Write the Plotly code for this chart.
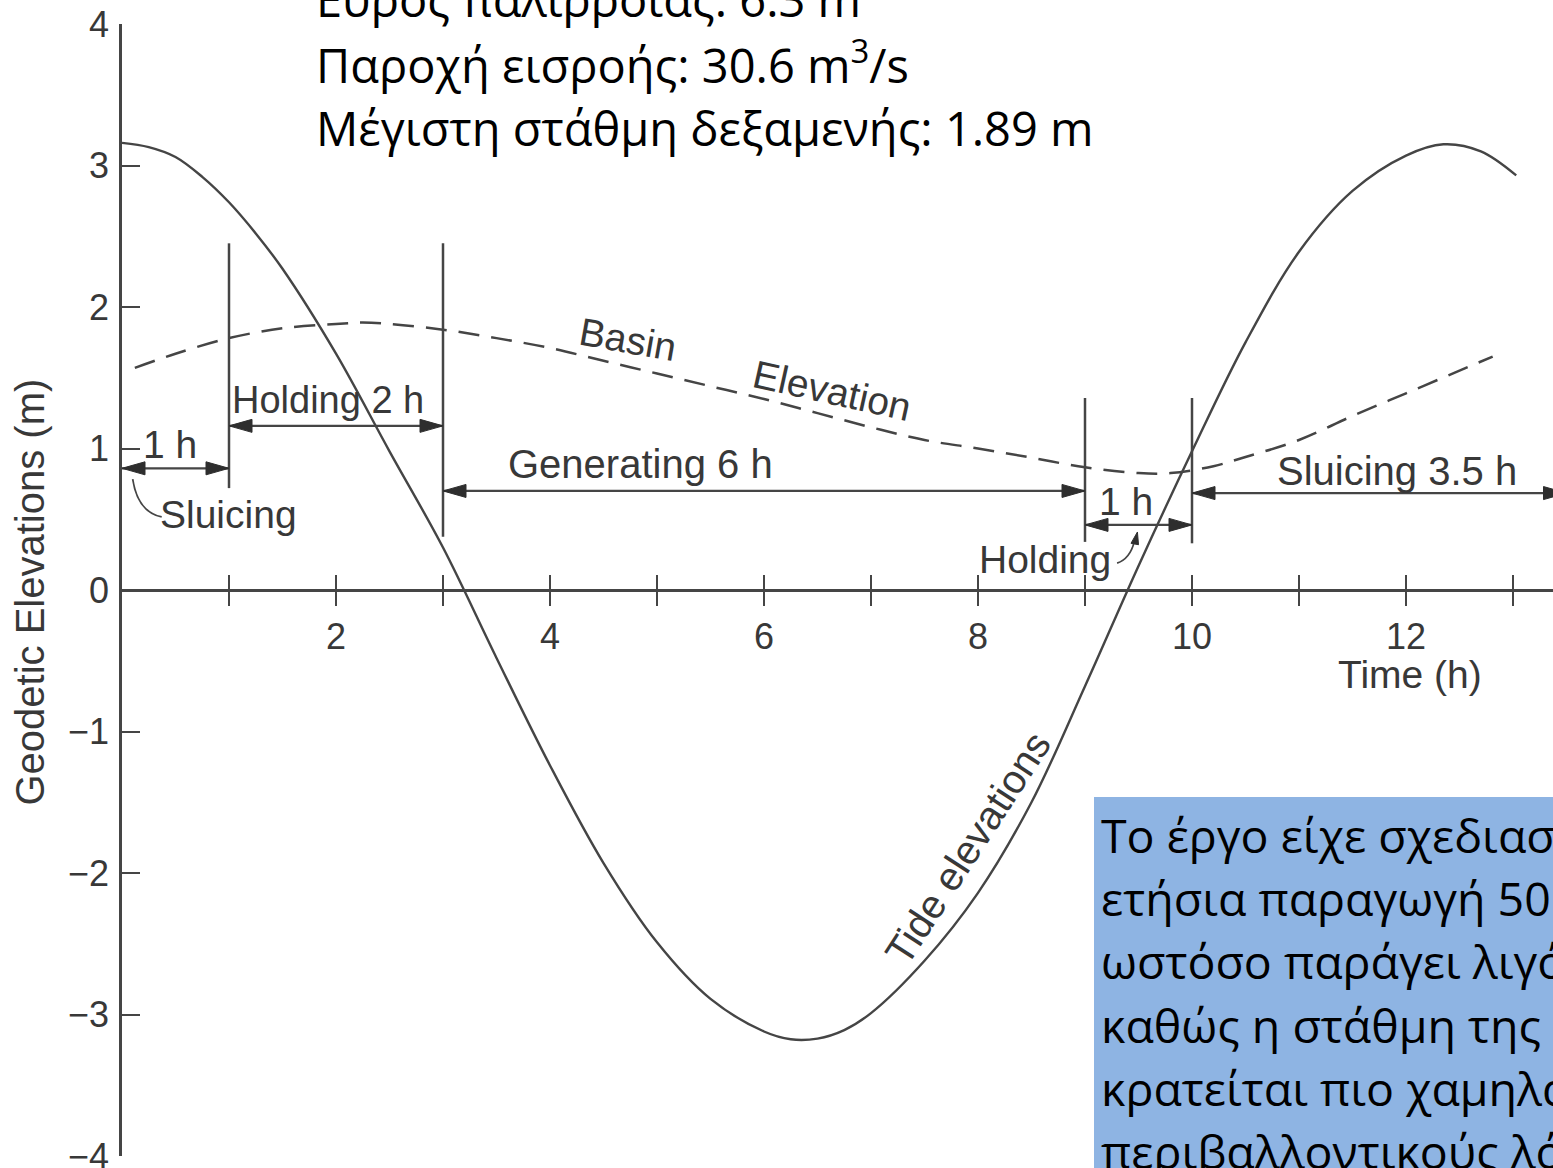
import plotly.graph_objects as go

# ---- data -------------------------------------------------------------
# Tide elevation over one cycle (time in h, elevation in m)
tide_t = [0.0, 0.25, 0.5, 0.75, 1.0, 1.25, 1.5, 2.0, 2.5, 3.0, 3.5, 4.0, 4.5, 5.0,
          5.5, 6.0, 6.25, 6.5, 6.75, 7.0, 7.5, 8.0, 8.5, 9.0, 9.5, 10.0, 10.5,
          11.0, 11.5, 12.0, 12.35, 12.7, 13.03]
tide_h = [3.16, 3.13, 3.06, 2.92, 2.74, 2.52, 2.27, 1.67, 0.98, 0.30, -0.48, -1.24,
          -1.93, -2.49, -2.89, -3.12, -3.175, -3.17, -3.11, -2.99, -2.62, -2.14,
          -1.50, -0.68, 0.17, 0.98, 1.75, 2.39, 2.82, 3.07, 3.15, 3.10, 2.93]

# Basin elevation over the same cycle
basin_t = [0.12, 0.5, 1.0, 1.5, 2.0, 2.25, 2.5, 3.0, 3.5, 4.0, 4.5, 5.0, 5.5, 6.0,
           6.5, 7.0, 7.5, 8.0, 8.5, 9.0, 9.5, 9.8, 10.2, 10.5, 11.0, 11.5, 12.0,
           12.5, 12.81]
basin_h = [1.57, 1.67, 1.78, 1.85, 1.88, 1.89, 1.88, 1.84, 1.78, 1.71, 1.62, 1.53,
           1.44, 1.35, 1.25, 1.15, 1.06, 1.00, 0.935, 0.867, 0.826, 0.826, 0.875,
           0.94, 1.06, 1.23, 1.39, 1.55, 1.65]

# Operating phases: boundaries (h) and labels
phase_bounds = [0, 1, 3, 9, 10, 13.5]
phase_labels = ["1 h", "Holding 2 h", "Generating 6 h", "1 h", "Sluicing 3.5 h"]

x_tick_vals = list(range(1, 14))
x_tick_text = [str(v) if v % 2 == 0 else "" for v in x_tick_vals]
y_tick_vals = [-4, -3, -2, -1, 0, 1, 2, 3, 4]

info_lines = ["Εύρος παλίρροιας: 6.3 m",
              "Παροχή εισροής: 30.6 m<sup>3</sup>/s",
              "Μέγιστη στάθμη δεξαμενής: 1.89 m"]
note_lines = ["Το έργο είχε σχεδιαστεί για",
              "ετήσια παραγωγή 50 GWh,",
              "ωστόσο παράγει λιγότερη ενέργεια",
              "καθώς η στάθμη της δεξαμενής",
              "κρατείται πιο χαμηλά για",
              "περιβαλλοντικούς λόγους."]

# ---- styling / layout constants --------------------------------------
W, H = 1553, 1168
INK = "#454545"
TXT = "#383838"
LAB_FONT = "Liberation Sans, Arial, Helvetica, sans-serif"
GR_FONT = "Open Sans, Noto Sans, sans-serif"
X_LEFT = 122 / W
Y_DOMAIN = [12 / H, 1144 / H]
X_RANGE = [0, (W - 122) / 107.0]
Y_RANGE = [-4, 4]
X_AXIS_POS = (Y_DOMAIN[0] + Y_DOMAIN[1]) / 2

fig = go.Figure()
fig.add_trace(go.Scatter(
    x=tide_t, y=tide_h, mode="lines", xaxis="x", yaxis="y",
    line=dict(color=INK, width=2.4, shape="spline", smoothing=1.0),
    hoverinfo="skip", showlegend=False))
fig.add_trace(go.Scatter(
    x=basin_t, y=basin_h, mode="lines", xaxis="x2", yaxis="y",
    line=dict(color=INK, width=2.5, dash="21px,12px", shape="spline", smoothing=1.0),
    hoverinfo="skip", showlegend=False))

shapes = []

# phase boundary markers (x, bottom, top)
marker_spans = {1: (0.72, 2.45), 3: (0.377, 2.45), 9: (0.34, 1.357), 10: (0.33, 1.357)}
for xb in phase_bounds[1:-1]:
    y0, y1 = marker_spans[xb]
    shapes.append(dict(type="line", xref="x", yref="y", x0=xb, x1=xb, y0=y0, y1=y1,
                       line=dict(color=INK, width=2.5)))

HEAD_L, HEAD_H = 0.215, 0.046


def double_arrow(xa, xb, y):
    shapes.append(dict(type="line", xref="x", yref="y", x0=xa, x1=xb, y0=y, y1=y,
                       line=dict(color=INK, width=2.2)))
    for tip, d in ((xa, 1), (xb, -1)):
        base = tip + d * HEAD_L
        shapes.append(dict(
            type="path", xref="x", yref="y",
            path=f"M{tip},{y} L{base},{y + HEAD_H} L{base},{y - HEAD_H} Z",
            fillcolor="#2e2e2e", line=dict(color="#2e2e2e", width=1)))


arrow_levels = [0.86, 1.16, 0.70, 0.46, 0.685]
for i, lvl in enumerate(arrow_levels):
    double_arrow(phase_bounds[i], phase_bounds[i + 1], lvl)

# leader from the first arrow to the "Sluicing" label
shapes.append(dict(type="path", xref="x", yref="y",
                   path="M0.10,0.784 Q0.147,0.551 0.371,0.516",
                   line=dict(color=INK, width=1.8)))
# leader from "Holding" to the short holding arrow
shapes.append(dict(type="path", xref="x", yref="y",
                   path="M9.30,0.19 Q9.42,0.22 9.46,0.34",
                   line=dict(color=INK, width=1.8)))
shapes.append(dict(type="path", xref="x", yref="y",
                   path="M9.49,0.41 L9.43,0.33 L9.50,0.32 Z",
                   fillcolor="#2e2e2e", line=dict(color="#2e2e2e", width=1)))

# note box
shapes.append(dict(type="rect", xref="paper", yref="paper",
                   x0=1094 / W, x1=1.02, y0=-0.02, y1=1 - 797 / H,
                   fillcolor="#8EB4E3", line=dict(width=0), layer="above"))

annotations = []


def label(text, x, y, size=39, angle=0):
    annotations.append(dict(text=text, x=x, y=y, xref="x", yref="y", showarrow=False,
                            xanchor="center", yanchor="middle", textangle=angle,
                            font=dict(family=LAB_FONT, size=size, color=TXT)))


label(phase_labels[0], 0.447, 1.025)
label("Sluicing", 0.997, 0.537)
label(phase_labels[1], 1.927, 1.343, size=38)
label(phase_labels[2], 4.848, 0.89, size=40)
label(phase_labels[3], 9.387, 0.624)
label("Holding", 8.629, 0.219)
label(phase_labels[4], 11.918, 0.841, size=40)
label("Time (h)", 12.04, -0.60)
label("Basin", 4.726, 1.767, angle=10)
label("Elevation", 6.631, 1.413, angle=12.5)
label("Tide elevations", 7.904, -1.823, size=40, angle=-57)

annotations.append(dict(text="Geodetic Elevations (m)", x=30 / W, y=-0.018,
                        xref="paper", yref="y", showarrow=False, textangle=-90,
                        xanchor="center", yanchor="middle",
                        font=dict(family=LAB_FONT, size=40, color=TXT)))

info_mid_px = [-1, 62, 128.5]
for txt, py in zip(info_lines, info_mid_px):
    annotations.append(dict(text=txt, x=314 / W, y=1 - py / H, xref="paper", yref="paper",
                            showarrow=False, xanchor="left", yanchor="middle",
                            font=dict(family=GR_FONT, size=47, color="#000000")))

for i, txt in enumerate(note_lines):
    py = 834.7 + 63.3 * i
    annotations.append(dict(text=txt, x=1099 / W, y=1 - py / H, xref="paper", yref="paper",
                            showarrow=False, xanchor="left", yanchor="middle",
                            font=dict(family=GR_FONT, size=46.5, color="#000000")))

axis_common = dict(showgrid=False, zeroline=False, fixedrange=True)

fig.update_layout(
    width=W, height=H, autosize=False,
    margin=dict(l=0, r=0, t=0, b=0, pad=0),
    paper_bgcolor="white", plot_bgcolor="white",
    showlegend=False,
    xaxis=dict(domain=[X_LEFT, 1], range=X_RANGE, anchor="free", position=X_AXIS_POS,
               showline=True, linecolor=INK, linewidth=3,
               ticks="outside", ticklen=14, tickwidth=2.4, tickcolor=INK,
               tickvals=x_tick_vals, ticktext=x_tick_text, ticklabelstandoff=0,
               tickfont=dict(family=LAB_FONT, size=36, color=TXT), automargin=False,
               **axis_common),
    xaxis2=dict(overlaying="x", range=X_RANGE, anchor="free", position=X_AXIS_POS,
                showline=False, ticks="inside", ticklen=15, tickwidth=2.4, tickcolor=INK,
                tickvals=x_tick_vals, showticklabels=False, automargin=False,
                **axis_common),
    yaxis=dict(domain=Y_DOMAIN, range=Y_RANGE, anchor="x",
               showline=True, linecolor=INK, linewidth=2.6,
               ticks="inside", ticklen=18, tickwidth=2.4, tickcolor=INK,
               tickvals=y_tick_vals, ticklabelstandoff=3, ticklabeloverflow="allow",
               tickfont=dict(family=LAB_FONT, size=36, color=TXT), automargin=False,
               **axis_common),
    shapes=shapes,
    annotations=annotations,
)

fig.write_html("out.html")
